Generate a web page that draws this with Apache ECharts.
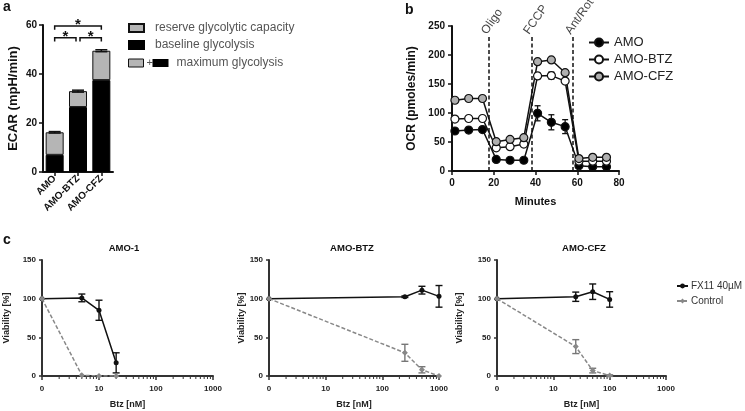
<!DOCTYPE html>
<html><head><meta charset="utf-8">
<script src="https://cdn.jsdelivr.net/npm/echarts@6/dist/echarts.min.js"></script>
<style>html,body{margin:0;padding:0;background:#fff}#c{width:745px;height:411px}</style>
</head><body><div id="c"></div>
<script>
// ---------- Panel a data ----------
const aCats = ['AMO', 'AMO-BTZ', 'AMO-CFZ'];
const aBaseline = [7, 26.5, 37.5];
const aMaximum = [16.2, 33, 49.5];
const aMaxErr = [0.3, 0.4, 0.4];
const aBrackets = [[0, 2, 59.6], [0, 1, 54.8], [1, 2, 54.8]];
const aBracketLabels = ['*', '*', '*'];
// ---------- Panel b data ----------
const bMinutes = [1.4, 8, 14.6, 21.2, 27.8, 34.4, 41, 47.6, 54.2, 60.8, 67.4, 74];
const bAMO = [69, 70.5, 71.5, 20, 18.5, 18.5, 99.5, 84, 76.5, 9, 7.5, 7.5];
const bAMOErr = [3, 3, 3, 2, 2, 2, 13, 13, 12, 2, 2, 2];
const bBTZ = [89.5, 90.5, 90.5, 40, 42, 46.5, 164, 164.5, 155, 17, 17, 17];
const bBTZErr = [2, 2, 2, 2, 2, 2, 5, 6, 4, 2, 2, 2];
const bCFZ = [122, 125, 125, 50.5, 54.5, 57.5, 188.5, 191.5, 169.5, 21.5, 23.5, 23.5];
const bCFZErr = [2, 2, 2, 2, 2, 2, 3, 3, 3, 2, 2, 2];
const bInjections = [17.7, 38, 58];
const bInjectionNames = ['Oligo', 'FCCP', 'Ant/Rot'];
const bLineTop = 235;
// ---------- Panel c data (Btz nM; 0 nM drawn at 1 on log axis) ----------
const cTitles = ['AMO-1', 'AMO-BTZ', 'AMO-CFZ'];
const cConc = [[1, 5, 10, 20], [1, 250, 500, 1000], [1, 25, 50, 100]];
const cFX = [[100, 101, 85, 17], [100, 102.5, 111, 103], [100, 102.5, 109, 99]];
const cFXErr = [[0, 5, 13, 13], [0, 1, 5, 14], [0, 6, 10, 10]];
const cCtrl = [[100, 1, 0, 0], [100, 30, 8, 0], [100, 38, 7, 0.5]];
const cCtrlErr = [[0, 0, 0, 0], [0, 11, 4, 0], [0, 9, 3, 1]];
const cXTicks = [1, 10, 100, 1000];
const cXTickLabels = ['0', '10', '100', '1000'];
const cMinorTicks = [2, 3, 4, 5, 6, 7, 8, 9, 20, 30, 40, 50, 60, 70, 80, 90, 200, 300, 400, 500, 600, 700, 800, 900];

const FONT = '"Liberation Sans", Arial, sans-serif';
const chart = echarts.init(document.getElementById('c'), null, {renderer: 'canvas'});

function errRender(capW, color, lw) {
  return function (params, api) {
    const x = api.value(0), lo = api.value(1), hi = api.value(2);
    if (hi - lo <= 0) return null;
    const p1 = api.coord([x, hi]), p2 = api.coord([x, lo]);
    const st = {stroke: color, lineWidth: lw};
    return {type: 'group', children: [
      {type: 'line', shape: {x1: p1[0], y1: p1[1], x2: p2[0], y2: p2[1]}, style: st},
      {type: 'line', shape: {x1: p1[0] - capW / 2, y1: p1[1], x2: p1[0] + capW / 2, y2: p1[1]}, style: st},
      {type: 'line', shape: {x1: p2[0] - capW / 2, y1: p2[1], x2: p2[0] + capW / 2, y2: p2[1]}, style: st}
    ]};
  };
}
function errData(xs, ys, es) { return xs.map((x, i) => [x, ys[i] - es[i], ys[i] + es[i]]); }
function minorTickRender(params, api) {
  const p = api.coord([api.value(0), 0]);
  return {type: 'line', shape: {x1: p[0], y1: p[1] + 1, x2: p[0], y2: p[1] + 3}, style: {stroke: '#333', lineWidth: 1}};
}

const grids = [
  {left: 43, top: 25, width: 70, height: 147},
  {left: 452, top: 26, width: 167, height: 145},
  {left: 42, top: 260, width: 171, height: 116},
  {left: 269, top: 260, width: 170, height: 116},
  {left: 497, top: 260, width: 169, height: 116}
];
const axLine = {lineStyle: {color: '#111', width: 2}};
const axTick = {show: true, length: 4, lineStyle: {color: '#111', width: 1.5}};
const cAxLine = {lineStyle: {color: '#333', width: 2}};
const cAxTick = {show: true, length: 4, lineStyle: {color: '#333', width: 1.5}};

const xAxes = [
  {gridIndex: 0, type: 'category', data: aCats, axisLine: axLine, axisTick: {show: true, alignWithLabel: true, length: 4, lineStyle: {color: '#111', width: 1.5}},
   axisLabel: {rotate: 45, fontFamily: FONT, fontWeight: 'bold', fontSize: 10, color: '#111', margin: 5, interval: 0}},
  {gridIndex: 1, type: 'value', min: 0, max: 80, interval: 20, axisLine: axLine, axisTick: axTick, splitLine: {show: false},
   axisLabel: {fontFamily: FONT, fontWeight: 'bold', fontSize: 10, color: '#111', margin: 7},
   name: 'Minutes', nameLocation: 'middle', nameGap: 25, nameTextStyle: {fontFamily: FONT, fontWeight: 'bold', fontSize: 11, color: '#111'}}
];
const yAxes = [
  {gridIndex: 0, type: 'value', min: 0, max: 60, interval: 20, axisLine: {show: true, lineStyle: {color: '#111', width: 2}}, axisTick: axTick, splitLine: {show: false},
   axisLabel: {fontFamily: FONT, fontWeight: 'bold', fontSize: 10, color: '#111', margin: 6},
   name: 'ECAR (mpH/min)', nameLocation: 'middle', nameGap: 23, nameTextStyle: {fontFamily: FONT, fontWeight: 'bold', fontSize: 13, color: '#111'}},
  {gridIndex: 1, type: 'value', min: 0, max: 250, interval: 50, axisLine: {show: true, lineStyle: {color: '#111', width: 2}}, axisTick: axTick, splitLine: {show: false},
   axisLabel: {fontFamily: FONT, fontWeight: 'bold', fontSize: 10, color: '#111', margin: 7},
   name: 'OCR (pmoles/min)', nameLocation: 'middle', nameGap: 34, nameTextStyle: {fontFamily: FONT, fontWeight: 'bold', fontSize: 12, color: '#111'}}
];
const cNameGaps = [31, 21, 33];
for (let k = 0; k < 3; k++) {
  xAxes.push({gridIndex: 2 + k, type: 'log', logBase: 10, min: 1, max: 1000, axisLine: cAxLine, axisTick: cAxTick, splitLine: {show: false},
    axisLabel: {fontFamily: FONT, fontWeight: 'bold', fontSize: 8, color: '#222', margin: 9,
      formatter: v => { const i = cXTicks.indexOf(v); return i >= 0 ? cXTickLabels[i] : ''; }},
    name: 'Btz [nM]', nameLocation: 'middle', nameGap: 24, nameTextStyle: {fontFamily: FONT, fontWeight: 'bold', fontSize: 9, color: '#222'}});
  yAxes.push({gridIndex: 2 + k, type: 'value', min: 0, max: 150, interval: 50, axisLine: {show: true, lineStyle: {color: '#333', width: 2}}, axisTick: {show: true, length: 3, lineStyle: {color: '#333', width: 1.5}}, splitLine: {show: false},
    axisLabel: {fontFamily: FONT, fontWeight: 'bold', fontSize: 8, color: '#222', margin: 6},
    name: 'Viability [%]', nameLocation: 'middle', nameGap: cNameGaps[k], nameTextStyle: {fontFamily: FONT, fontWeight: 'bold', fontSize: 9, color: '#222'}});
}

const series = [];
// Panel a bars
series.push({name: 'baseline glycolysis', type: 'bar', xAxisIndex: 0, yAxisIndex: 0, stack: 'a', barWidth: 18, data: aBaseline,
  itemStyle: {color: '#000', borderColor: '#000', borderWidth: 1}, emphasis: {disabled: true}});
series.push({name: 'reserve glycolytic capacity', type: 'bar', xAxisIndex: 0, yAxisIndex: 0, stack: 'a', barWidth: 18,
  data: aMaximum.map((m, i) => +(m - aBaseline[i]).toFixed(2)),
  itemStyle: {color: '#b5b5b5', borderColor: '#111', borderWidth: 1}, emphasis: {disabled: true}});
series.push({type: 'custom', xAxisIndex: 0, yAxisIndex: 0, renderItem: errRender(12, '#111', 1.5),
  data: aCats.map((c, i) => [i, aMaximum[i] - aMaxErr[i], aMaximum[i] + aMaxErr[i]]), z: 5});
series.push({type: 'custom', xAxisIndex: 0, yAxisIndex: 0, z: 5,
  renderItem: function (params, api) {
    const b = aBrackets[params.dataIndex];
    const p1 = api.coord([b[0], b[2]]), p2 = api.coord([b[1], b[2]]);
    const drop = api.size([0, 1.5])[1];
    const x1 = p1[0] + (b[0] === 1 ? 2 : 0), x2 = p2[0] - (b[1] === 1 ? 2 : 0);
    return {type: 'group', children: [
      {type: 'polyline', shape: {points: [[x1, p1[1] + drop], [x1, p1[1]], [x2, p1[1]], [x2, p1[1] + drop]]},
       style: {stroke: '#111', lineWidth: 1.5, fill: null}},
      {type: 'text', style: {text: aBracketLabels[params.dataIndex], x: (x1 + x2) / 2, y: p1[1] - 1, align: 'center', verticalAlign: 'middle',
        font: 'bold 15px ' + FONT, fill: '#111'}}
    ]};
  },
  data: aBrackets});

// Panel b
const bDefs = [
  {name: 'AMO', y: bAMO, e: bAMOErr, fill: '#000'},
  {name: 'AMO-BTZ', y: bBTZ, e: bBTZErr, fill: '#fff'},
  {name: 'AMO-CFZ', y: bCFZ, e: bCFZErr, fill: '#b0b0b0'}
];
bDefs.forEach(d => {
  series.push({type: 'custom', xAxisIndex: 1, yAxisIndex: 1, renderItem: errRender(6, '#111', 1.3), data: errData(bMinutes, d.y, d.e), z: 2});
});
bDefs.forEach(d => {
  series.push({name: d.name, type: 'line', xAxisIndex: 1, yAxisIndex: 1, data: bMinutes.map((m, i) => [m, d.y[i]]),
    symbol: 'circle', symbolSize: 8, lineStyle: {color: '#111', width: 1.5},
    itemStyle: {color: d.fill, borderColor: '#111', borderWidth: 1.2}, emphasis: {disabled: true}, z: 3});
});
series.push({type: 'scatter', xAxisIndex: 1, yAxisIndex: 1, symbolSize: 0, silent: true,
  data: bInjections.map((x, i) => ({name: bInjectionNames[i], value: [x, 232]})),
  label: {show: true, formatter: '{b}', position: 'inside', align: 'left', verticalAlign: 'bottom', rotate: 55, offset: [0, 0],
    fontFamily: FONT, fontSize: 12, color: '#111'},
  markLine: {symbol: 'none', silent: true, label: {show: false}, lineStyle: {type: [4, 2.5], color: '#111', width: 1.5},
    data: bInjections.map(x => [{coord: [x, 0]}, {coord: [x, bLineTop]}])}});

// Panel c
for (let k = 0; k < 3; k++) {
  series.push({type: 'custom', xAxisIndex: 2 + k, yAxisIndex: 2 + k, renderItem: minorTickRender, silent: true, clip: false,
    data: cMinorTicks.map(v => [v]), z: 1});
  series.push({type: 'custom', xAxisIndex: 2 + k, yAxisIndex: 2 + k, renderItem: errRender(7, '#111', 1.4), data: errData(cConc[k], cFX[k], cFXErr[k]), z: 2});
  series.push({name: 'FX11 40µM', type: 'line', xAxisIndex: 2 + k, yAxisIndex: 2 + k, data: cConc[k].map((x, i) => [x, cFX[k][i]]),
    symbol: 'circle', symbolSize: 5, lineStyle: {color: '#111', width: 1.5}, itemStyle: {color: '#111'}, emphasis: {disabled: true}, z: 3});
  series.push({type: 'custom', xAxisIndex: 2 + k, yAxisIndex: 2 + k, renderItem: errRender(7, '#777', 1.4), data: errData(cConc[k], cCtrl[k], cCtrlErr[k]), z: 4});
  series.push({name: 'Control', type: 'line', xAxisIndex: 2 + k, yAxisIndex: 2 + k, data: cConc[k].map((x, i) => [x, cCtrl[k][i]]),
    symbol: 'diamond', symbolSize: 6, lineStyle: {color: '#888', width: 1.5, type: [4, 2]}, itemStyle: {color: '#888'}, emphasis: {disabled: true}, z: 5});
}

const titleStyle = (t, x, y, size, align) => ({text: t, left: x, top: y, textAlign: align || 'left', padding: 0,
  textStyle: {fontFamily: FONT, fontWeight: 'bold', fontSize: size, color: '#111'}});

chart.setOption({
  animation: false,
  backgroundColor: '#fff',
  title: [
    titleStyle('a', 3, 0, 14), titleStyle('b', 405, 3, 14), titleStyle('c', 3, 233, 14),
    titleStyle(cTitles[0], 124, 243, 9.5, 'center'), titleStyle(cTitles[1], 352, 243, 9.5, 'center'), titleStyle(cTitles[2], 584, 243, 9.5, 'center')
  ],
  grid: grids,
  xAxis: xAxes,
  yAxis: yAxes,
  legend: [
    {data: ['reserve glycolytic capacity', 'baseline glycolysis'], left: 128, top: 22, orient: 'vertical', itemWidth: 15, itemHeight: 8, itemGap: 5,
     icon: 'rect', padding: 0, selectedMode: false, textStyle: {fontFamily: FONT, fontSize: 12, color: '#555', padding: [0, 0, 0, 6]}},
    {data: ['AMO', 'AMO-BTZ', 'AMO-CFZ'], left: 588, top: 36, orient: 'vertical', itemWidth: 20, itemHeight: 10, itemGap: 4, padding: 0,
     selectedMode: false, textStyle: {fontFamily: FONT, fontSize: 13, color: '#222'}},
    {data: ['FX11 40µM', 'Control'], left: 676, top: 281, orient: 'vertical', itemWidth: 11, itemHeight: 6, itemGap: 5, padding: 0,
     selectedMode: false, textStyle: {fontFamily: FONT, fontSize: 10, color: '#333', padding: [0, 0, 0, -2]}}
  ],
  graphic: [
    {type: 'group', left: 128, top: 57, children: [
      {type: 'rect', shape: {x: 0, y: 0, width: 15, height: 8}, style: {fill: '#b5b5b5', stroke: '#111', lineWidth: 1}},
      {type: 'text', style: {text: '+', x: 18, y: 4, verticalAlign: 'middle', font: '11px ' + FONT, fill: '#555'}},
      {type: 'rect', shape: {x: 24, y: 0, width: 16, height: 8}, style: {fill: '#000'}},
      {type: 'text', style: {text: 'maximum glycolysis', x: 48, y: 4, verticalAlign: 'middle', font: '12px ' + FONT, fill: '#555'}}
    ]}
  ],
  series: series
});
</script></body></html>
